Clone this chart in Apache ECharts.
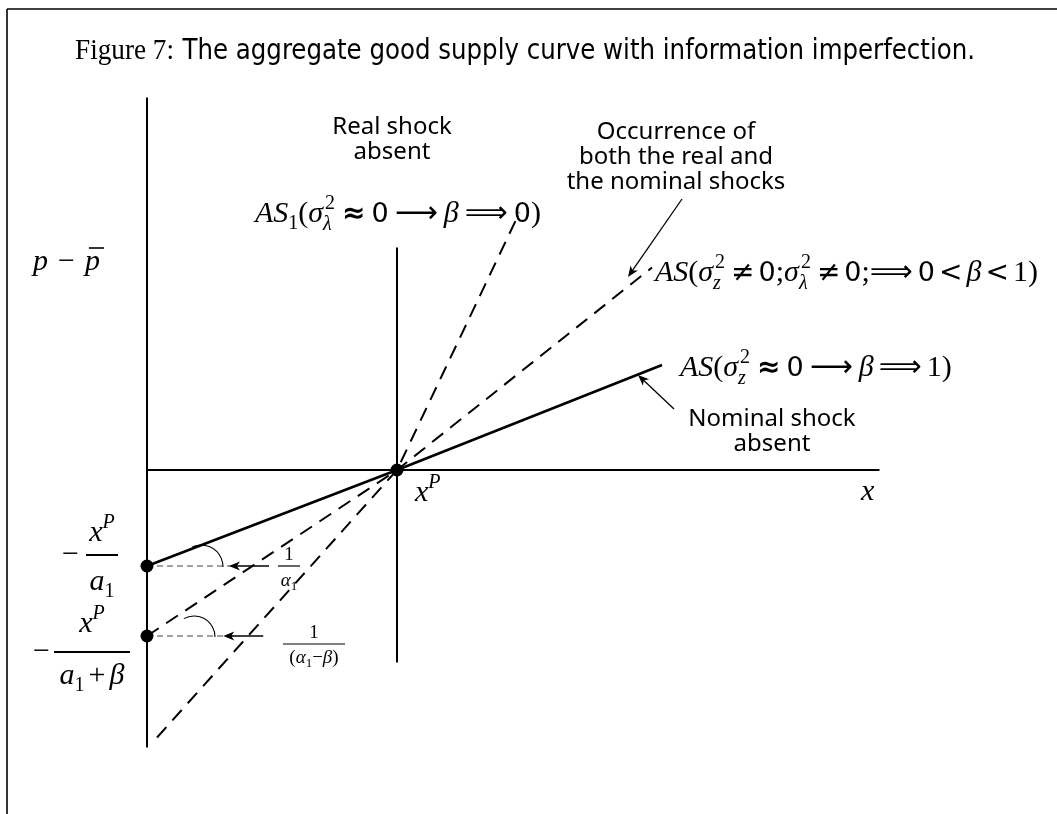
<!DOCTYPE html>
<html>
<head>
<meta charset="utf-8">
<script src="https://cdn.jsdelivr.net/npm/echarts/dist/echarts.min.js"></script>
<style>
  html, body { margin: 0; padding: 0; background: #fff; }
  #c { width: 1057px; height: 814px; }
</style>
</head>
<body>
<div id="c"></div>
<script>
// Aggregate supply with imperfect information.
// x: output (price axis at 0, natural output x^P at 10); y: p - p̄ (output axis at 0).
const xP = 10;
const priceAxis = [[0, 14.9], [0, -11.1]];
const outputAxis = [[0, 0], [29.3, 0]];
const naturalOutput = [[xP, 8.9], [xP, -7.7]];
const asNominalAbsent = [[0, -3.84], [xP, 0], [20.6, 4.2]];
const asBothShocks = [[0, -6.64], [xP, 0], [20.2, 8.1]];
const asRealAbsent = [[0.4, -10.7], [xP, 0], [14.9, 10.3]];
const intercepts = [[0, -3.84], [0, -6.64], [xP, 0]];
const guideA = [[0, -3.84], [3.4, -3.84]];
const guideB = [[0, -6.64], [3.45, -6.64]];

const SERIF = '"Liberation Serif","DejaVu Serif",serif';
const SANS = '"Noto Sans","Open Sans","DejaVu Sans",sans-serif';
const F = {
  mi: 'italic 30px ' + SERIF,
  rm: '30px ' + SERIF,
  supR: '20px ' + SERIF,
  supI: 'italic 20px ' + SERIF,
  zero: '27px "DejaVu Sans",sans-serif',
  arr: '30px "DejaVu Sans",sans-serif',
  rel: 'bold 28px "DejaVu Sans",sans-serif',
  relN: '28px "DejaVu Sans",sans-serif',
  note: '24px ' + SANS,
  smI: 'italic 19px ' + SERIF,
  smR: '19px ' + SERIF,
  tinyR: '13px ' + SERIF,
  titleS: '29px ' + SERIF,
  titleN: '29px "Liberation Sans Narrow","DejaVu Sans Condensed","Liberation Sans",sans-serif'
};

const ctx = document.createElement('canvas').getContext('2d');
function measure(t, font) { ctx.font = font; return ctx.measureText(t).width; }
function baseOff(font) {
  ctx.font = font; ctx.textBaseline = 'middle';
  const d = ctx.measureText('H').actualBoundingBoxDescent;
  ctx.textBaseline = 'alphabetic';
  return d;
}
function T(x, base, text, font, align) {
  const a = align || 'left';
  return { type: 'text', silent: true, z: 10,
    style: { text: text, x: x, y: base - baseOff(font), font: font, fill: '#000',
      align: a, textAlign: a, verticalAlign: 'middle', textVerticalAlign: 'middle' } };
}
function L(x1, y1, x2, y2, w, dash, color) {
  return { type: 'line', silent: true, z: 10,
    shape: { x1: x1, y1: y1, x2: x2, y2: y2 },
    style: { stroke: color || '#000', lineWidth: w || 1, lineDash: dash || null } };
}
function arrow(x1, y1, x2, y2) {
  const dx = x2 - x1, dy = y2 - y1, len = Math.hypot(dx, dy);
  const ux = dx / len, uy = dy / len, nx = -uy, ny = ux;
  const hl = 11, hw = 4.5;
  const bx = x2 - ux * hl, by = y2 - uy * hl;
  return [
    L(x1, y1, x2 - ux * 4, y2 - uy * 4, 1.3),
    { type: 'polygon', silent: true, z: 10,
      shape: { points: [[x2, y2], [bx + nx * hw, by + ny * hw],
        [x2 - ux * hl * 0.72, y2 - uy * hl * 0.72], [bx - nx * hw, by - ny * hw]] },
      style: { fill: '#000' } }
  ];
}
// horizontal run of math tokens starting (or centred) at x with baseline base
function row(x, base, toks, align) {
  const items = []; let w = 0;
  toks.forEach(function (k) {
    if (k.sp !== undefined) { w += k.sp; return; }
    if (k.st) {
      const wa = measure(k.st[0], k.fa), wb = measure(k.st[1], k.fb);
      items.push({ t: k.st[0], f: k.fa, x: w + (k.ka || 0), dy: k.up });
      items.push({ t: k.st[1], f: k.fb, x: w, dy: k.dn });
      w += Math.max(wa + (k.ka || 0), wb); return;
    }
    const kw = measure(k.t, k.f);
    items.push({ t: k.t, f: k.f, x: w, dy: k.dy || 0, bar: k.bar, w: kw });
    w += kw;
  });
  const x0 = align === 'center' ? x - w / 2 : (align === 'right' ? x - w : x);
  const els = [];
  items.forEach(function (it) {
    els.push(T(x0 + it.x, base + it.dy, it.t, it.f));
    if (it.bar) els.push(L(x0 + it.x + 4, base - 22, x0 + it.x + it.w + 4, base - 22, 1.6));
  });
  return { els: els, w: w, x0: x0 };
}

function line(data, width, type, color) {
  return { type: 'line', data: data, showSymbol: false, silent: true, clip: false,
    lineStyle: { color: color || '#000', width: width, type: type, cap: 'butt', opacity: 1 } };
}

const chart = echarts.init(document.getElementById('c'), null, { renderer: 'canvas' });
chart.setOption({
  animation: false,
  backgroundColor: '#fff',
  grid: { left: 0, right: 0, top: 0, bottom: 0 },
  xAxis: { type: 'value', min: -5.88, max: 36.4, show: false },
  yAxis: { type: 'value', min: -13.76, max: 18.8, show: false },
  series: [
    line(priceAxis, 2, 'solid'),
    line(outputAxis, 2, 'solid'),
    line(naturalOutput, 2, 'solid'),
    line(asNominalAbsent, 2.6, 'solid'),
    line(asBothShocks, 2, [14, 9]),
    line(asRealAbsent, 2, [14, 9]),
    line(guideA, 1, [6, 4], '#444'),
    line(guideB, 1, [6, 4], '#444'),
    { type: 'scatter', data: intercepts, symbolSize: 13, silent: true, z: 5,
      itemStyle: { color: '#000', opacity: 1 } }
  ]
});

const px = function (p) { return chart.convertToPixel({ gridIndex: 0 }, p); };
const O = px([xP, 0]);
const D1 = px(guideA[0]);
const D2 = px(guideB[0]);
const G1 = px(guideA[1]);
const G2 = px(guideB[1]);

let els = [];
const add = function (r) { els = els.concat(r.els ? r.els : r); };

// frame
add([L(7, 9, 1057, 9, 1.6), L(7, 9, 7, 814, 1.6)]);

// caption
(function () {
  const a = 'Figure 7:', b = 'The aggregate good supply curve with information imperfection.';
  const wa = measure(a, F.titleS), gap = 9, wb = measure(b, F.titleN);
  const s = 900 / (wa + gap + wb);
  els.push({ type: 'group', x: 75, y: 0, scaleX: s, silent: true,
    children: [T(0, 59, a, F.titleS), T(wa + gap, 59, b, F.titleN)] });
})();

// callout notes
add([T(392, 134, 'Real shock', F.note, 'center'), T(392, 159, 'absent', F.note, 'center')]);
add([T(676, 139, 'Occurrence of', F.note, 'center'),
     T(676, 164, 'both the real and', F.note, 'center'),
     T(676, 189, 'the nominal shocks', F.note, 'center')]);
add([T(772, 426, 'Nominal shock', F.note, 'center'), T(772, 451, 'absent', F.note, 'center')]);
add(arrow(682, 199, 628, 277));
add(arrow(674, 409, 638, 375));

// curve labels
const sig = function (sub) { return { st: ['2', sub], fa: F.supR, fb: F.supI, up: -13, dn: 8, ka: 2 }; };
add(row(255, 222, [
  { t: 'AS', f: F.mi }, { t: '1', f: F.supR, dy: 7 }, { t: '(', f: F.rm }, { t: 'σ', f: F.mi }, sig('λ'),
  { sp: 7 }, { t: '≈', f: F.rel }, { sp: 6 }, { t: '0', f: F.zero }, { sp: 6 }, { t: '⟶', f: F.arr },
  { sp: 6 }, { t: 'β', f: F.mi }, { sp: 6 }, { t: '⟹', f: F.arr }, { sp: 6 }, { t: '0', f: F.zero },
  { t: ')', f: F.rm }
]));
add(row(655, 281, [
  { t: 'AS', f: F.mi }, { t: '(', f: F.rm }, { t: 'σ', f: F.mi }, sig('z'), { sp: 6 },
  { t: '≠', f: F.relN }, { sp: 4 }, { t: '0', f: F.zero }, { t: ';', f: F.rm },
  { t: 'σ', f: F.mi }, sig('λ'), { sp: 6 }, { t: '≠', f: F.relN }, { sp: 4 },
  { t: '0', f: F.zero }, { t: ';', f: F.rm }, { t: '⟹', f: F.arr }, { sp: 5 }, { t: '0', f: F.zero },
  { sp: 4 }, { t: '<', f: F.relN }, { sp: 4 }, { t: 'β', f: F.mi }, { sp: 4 }, { t: '<', f: F.relN },
  { sp: 4 }, { t: '1', f: F.rm }, { t: ')', f: F.rm }
]));
add(row(680, 376, [
  { t: 'AS', f: F.mi }, { t: '(', f: F.rm }, { t: 'σ', f: F.mi }, sig('z'), { sp: 7 },
  { t: '≈', f: F.rel }, { sp: 6 }, { t: '0', f: F.zero }, { sp: 6 }, { t: '⟶', f: F.arr },
  { sp: 6 }, { t: 'β', f: F.mi }, { sp: 5 }, { t: '⟹', f: F.arr }, { sp: 5 }, { t: '1', f: F.rm },
  { t: ')', f: F.rm }
]));

// axis labels
add(row(33, 270, [{ t: 'p', f: F.mi }, { sp: 10 }, { t: '−', f: F.rm }, { sp: 10 }, { t: 'p', f: F.mi, bar: true }]));
add(T(861, 500, 'x', F.mi));
add(row(O[0] + 18, O[1] + 31, [{ t: 'x', f: F.mi }, { t: 'P', f: F.supI, dy: -13 }]));

// intercept labels
(function () {
  const xp = [{ t: 'x', f: F.mi }, { t: 'P', f: F.supI, dy: -13 }];
  // −x^P / a1
  const c1 = D1[0] - 45, b1 = D1[1] - 11;
  add(T(D1[0] - 85, b1 + 8, '−', F.rm));
  add(row(c1, b1 - 14, xp, 'center'));
  add(L(c1 - 16, b1, c1 + 16, b1, 2));
  add(row(c1, b1 + 35, [{ t: 'a', f: F.mi }, { t: '1', f: F.supR, dy: 7 }], 'center'));
  // −x^P / (a1 + β)
  const c2 = D2[0] - 55, b2 = D2[1] + 16;
  add(T(D2[0] - 114, b2 + 8, '−', F.rm));
  add(row(c2, b2 - 20, xp, 'center'));
  add(L(c2 - 38, b2, c2 + 38, b2, 2));
  add(row(c2, b2 + 32, [{ t: 'a', f: F.mi }, { t: '1', f: F.supR, dy: 7 }, { sp: 4 },
    { t: '+', f: F.rm }, { sp: 4 }, { t: 'β', f: F.mi }], 'center'));
})();

// slope markers at the intercepts
els.push({ type: 'arc', silent: true, z: 10,
  shape: { cx: D1[0] + 54, cy: D1[1] + 1, r: 22, startAngle: -113 * Math.PI / 180, endAngle: 0, clockwise: true },
  style: { stroke: '#000', lineWidth: 1.1, fill: null } });
els.push({ type: 'arc', silent: true, z: 10,
  shape: { cx: D2[0] + 47, cy: D2[1] + 1, r: 21, startAngle: -119 * Math.PI / 180, endAngle: 0, clockwise: true },
  style: { stroke: '#000', lineWidth: 1.1, fill: null } });
add(arrow(G1[0] + 37, G1[1], G1[0] - 3, G1[1]));
add(arrow(G2[0] + 30, G2[1], G2[0] - 10, G2[1]));

// 1/α1 and 1/(α1 − β)
(function () {
  const cx = 289, by = D1[1];
  add(T(cx, by - 6, '1', F.smR, 'center'));
  add(L(cx - 11, by, cx + 11, by, 1.2));
  add(row(cx, by + 20, [{ t: 'α', f: F.smI }, { t: '1', f: F.tinyR, dy: 4 }], 'center'));
  const cx2 = 314, by2 = D2[1] + 8;
  add(T(cx2, by2 - 6, '1', F.smR, 'center'));
  add(L(cx2 - 31, by2, cx2 + 31, by2, 1.2));
  add(row(cx2, by2 + 19, [{ t: '(', f: F.smR }, { t: 'α', f: F.smI }, { t: '1', f: F.tinyR, dy: 4 },
    { t: '−', f: F.smR }, { t: 'β', f: F.smI }, { t: ')', f: F.smR }], 'center'));
})();

chart.setOption({ graphic: { elements: els } });
</script>
</body>
</html>
